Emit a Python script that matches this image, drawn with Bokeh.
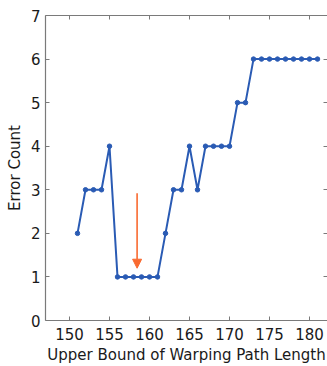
from bokeh.plotting import figure
from bokeh.models import LinearAxis, FixedTicker, Arrow, NormalHead, Range1d
from bokeh.embed import file_html
from bokeh.resources import INLINE

# Data
bound = [151, 152, 153, 154, 155, 156, 157, 158, 159, 160, 161, 162, 163, 164, 165,
         166, 167, 168, 169, 170, 171, 172, 173, 174, 175, 176, 177, 178, 179, 180, 181]
errors = [2, 3, 3, 3, 4, 1, 1, 1, 1, 1, 1, 2, 3, 3, 4,
          3, 4, 4, 4, 4, 5, 5, 6, 6, 6, 6, 6, 6, 6, 6, 6]
x_ticks = [150, 155, 160, 165, 170, 175, 180]
y_ticks = [0, 1, 2, 3, 4, 5, 6, 7]
arrow_x = 158.45
arrow_y_start = 2.92
arrow_y_end = 1.2

FONT = "DejaVu Sans"
AX = "#7a7a7a"

p = figure(width=327, height=366, output_backend="svg", toolbar_location=None,
           x_range=Range1d(147, 182.25), y_range=Range1d(0, 7),
           x_axis_label="Upper Bound of Warping Path Length", y_axis_label="Error Count",
           min_border_left=45, min_border_right=0, min_border_top=15, min_border_bottom=44)
p.outline_line_color = None
p.grid.visible = False

def style(ax):
    ax.major_tick_in = 4
    ax.major_tick_out = 0
    ax.minor_tick_line_color = None
    ax.axis_line_color = AX
    ax.major_tick_line_color = AX
    ax.axis_line_width = 1.2
    ax.major_label_text_font = FONT
    ax.major_label_text_font_size = "15px"
    ax.major_label_text_color = "#1a1a1a"
    ax.axis_label_text_font = FONT
    ax.axis_label_text_font_size = "15px"
    ax.axis_label_text_font_style = "normal"
    ax.axis_label_text_color = "#1a1a1a"

p.xaxis.ticker = FixedTicker(ticks=x_ticks)
p.yaxis.ticker = FixedTicker(ticks=y_ticks)
for a in p.xaxis:
    style(a)
    a.major_label_standoff = 7
    a.axis_label_standoff = 3
for a in p.yaxis:
    style(a)
    a.major_label_standoff = 5
    a.axis_label_standoff = 4

top = LinearAxis(ticker=FixedTicker(ticks=x_ticks))
style(top)
top.major_label_overrides = {t: "" for t in x_ticks}
top.major_label_standoff = 0
p.add_layout(top, "above")
right = LinearAxis(ticker=FixedTicker(ticks=y_ticks))
style(right)
right.major_label_overrides = {t: "" for t in y_ticks}
right.major_label_standoff = 0
right.axis_line_color = None
p.add_layout(right, "right")

p.line(bound, errors, line_color="#2a5bb4", line_width=2)
p.scatter(bound, errors, size=4.5, fill_color="#2a5bb4", line_color="#2a5bb4")

p.add_layout(Arrow(x_start=arrow_x, y_start=arrow_y_start, x_end=arrow_x, y_end=arrow_y_end,
                   line_color="#f96a30", line_width=1.6,
                   end=NormalHead(size=9, fill_color="#f96a30", line_color="#f96a30", line_width=1)))

open("out.html", "w").write(file_html(p, INLINE))
